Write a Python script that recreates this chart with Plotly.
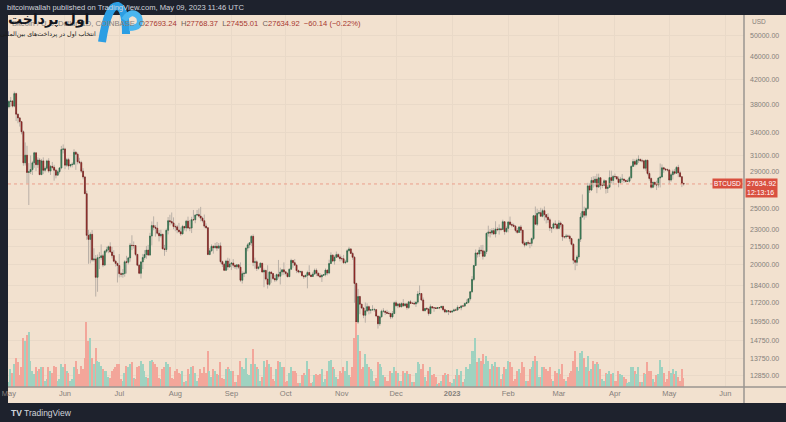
import math
import pandas as pd
import plotly.graph_objects as go

# ---------------- data (BTC/USD daily, COINBASE) ----------------
first_open = 37640
closes = [
    # May 2022
    38470, 38529, 37750, 39690, 36550, 36010, 35470, 34060, 30080, 31010,
    28940, 29030, 29280, 30080, 31310, 29860, 30420, 28690, 30310, 29190,
    29430, 30310, 29100, 29650, 29540, 29200, 28630, 29030, 29470, 31730, 31800,
    # Jun
    29800, 30460, 29700, 29860, 29910, 31370, 31130, 30200, 30110, 29090,
    28420, 26580, 22490, 22130, 22580, 20390, 20460, 19010, 20560, 20570,
    20720, 19970, 21100, 21230, 21490, 21040, 20740, 20280, 20100, 19930,
    # Jul
    19290, 19240, 19300, 20230, 20190, 20550, 21620, 21590, 21590, 20840,
    19960, 19320, 20220, 20580, 20830, 21200, 20780, 22430, 23390, 23230,
    23150, 22680, 22450, 22580, 21310, 21250, 22950, 23850, 23770, 23640, 23300,
    # Aug
    23270, 22980, 22820, 22620, 23310, 23170, 23810, 23160, 23160, 23950,
    23940, 24400, 24440, 24300, 24100, 23850, 23340, 23190, 20830, 21140,
    21520, 21400, 21530, 21370, 21560, 20240, 20040, 19550, 20290, 19810, 20050,
    # Sep
    20130, 19950, 19830, 19990, 19800, 18790, 19290, 19320, 21370, 21650,
    21830, 22400, 20180, 20230, 19700, 19800, 20110, 19420, 19540, 18880,
    18480, 19410, 19300, 18920, 18810, 19220, 19090, 19420, 19590, 19430,
    # Oct
    19310, 19060, 19630, 20340, 20160, 19960, 19530, 19420, 19450, 19130,
    19060, 19160, 19380, 19180, 19070, 19260, 19550, 19330, 19130, 19050,
    19170, 19210, 19570, 19340, 20090, 20770, 20290, 20600, 20820, 20630, 20490,
    # Nov
    20480, 20160, 20210, 21150, 21300, 20920, 20600, 18550, 15890, 17600,
    17070, 16810, 16330, 16620, 16900, 16660, 16690, 16700, 16700, 16280,
    15780, 16230, 16600, 16600, 16520, 16460, 16440, 16220, 16440, 17170,
    # Dec
    16970, 17090, 16890, 17110, 16970, 17090, 16840, 17230, 17130, 17130,
    17090, 17210, 17780, 17810, 17360, 16630, 16780, 16740, 16440, 16900,
    16830, 16820, 16780, 16840, 16830, 16920, 16700, 16550, 16630, 16600, 16540,
    # Jan 2023
    16610, 16680, 16670, 16850, 16830, 16950, 16940, 17120, 17180, 17440,
    17940, 18850, 19930, 20960, 20870, 21190, 21140, 20680, 21080, 22680,
    22780, 22710, 22920, 22620, 23060, 23010, 23080, 23030, 23750, 22830, 23130,
    # Feb
    23730, 23490, 23430, 23330, 22940, 22760, 23260, 22960, 21800, 21630,
    21860, 21790, 21780, 22200, 24330, 23520, 24570, 24630, 24280, 24830,
    24440, 24190, 23940, 23180, 23160, 23550, 23490, 23130,
    # Mar
    23630, 23470, 22360, 22350, 22430, 22410, 22200, 21700, 20360, 20190,
    20630, 22150, 24200, 24750, 24380, 25050, 27420, 26970, 28030, 27800,
    28170, 27300, 28330, 27490, 27490, 27990, 27140, 27270, 28350, 28030, 28480,
    # Apr
    28450, 28200, 27790, 28170, 28180, 28040, 27920, 27950, 28340, 29650,
    30230, 29900, 30390, 30490, 30320, 30320, 29440, 30390, 28820, 28250,
    27270, 27820, 27590, 27520, 28300, 28420, 29480, 29340, 29250, 29230,
    # May 2023
    28070, 28680, 29030, 28850, 29530, 28900, 28450, 27693.24, 27634.92,
]
highs = [
    38670, 39160, 38650, 40020, 39850, 36650, 36130, 35510, 34250, 32640,
    32200, 30040, 30980, 30320, 31430, 31310, 30750, 30670, 30550, 30740,
    29650, 30460, 30640, 29820, 30180, 29840, 29370, 29240, 29550, 32190, 32380,
    31950, 30670, 30680, 29950, 30140, 31760, 31550, 31330, 30690, 30330,
    29440, 28540, 26900, 23000, 22770, 22970, 21360, 20790, 20830, 21030,
    21690, 20880, 21200, 21490, 21590, 21870, 21480, 21190, 20400, 20160,
    20870, 19400, 19650, 20360, 20720, 20640, 21800, 22500, 21950, 21600,
    20850, 20040, 20290, 20880, 21200, 21560, 21650, 22720, 23780, 24270,
    23440, 23740, 22980, 23000, 22650, 21650, 23110, 24200, 24430, 24650, 24170,
    23500, 23450, 23640, 23220, 23460, 23350, 23930, 24240, 23920, 24230,
    24900, 24460, 24900, 25050, 25210, 24240, 24450, 23600, 23220, 21380,
    21690, 21620, 21820, 21900, 21810, 21860, 20330, 20150, 20400, 20560, 20490,
    20200, 20450, 20000, 20020, 20050, 20180, 19470, 19450, 21420, 21800,
    21850, 22500, 22580, 20570, 20350, 19910, 20200, 20110, 19690, 19600,
    19950, 19500, 19480, 19310, 19190, 19300, 20380, 19760, 19640, 20180,
    19480, 19400, 19710, 20480, 20370, 20460, 20060, 19610, 19530, 19530,
    19150, 19220, 19520, 19950, 19220, 19430, 19690, 19700, 19350, 19330,
    19250, 19260, 19700, 19600, 20400, 21010, 20850, 20750, 21080, 20930, 20830,
    20680, 20800, 20390, 21290, 21480, 21360, 21060, 20700, 18600, 18150,
    17650, 17080, 16880, 17190, 17130, 16970, 16750, 17000, 16820, 16740,
    16290, 16300, 16700, 16800, 16600, 16690, 16590, 16500, 16610, 17250,
    17320, 17100, 17160, 17200, 17420, 17110, 17140, 17300, 17360, 17230,
    17260, 17240, 18000, 18400, 17850, 17530, 16800, 16870, 16810, 17050,
    16910, 16860, 16870, 16870, 16860, 16950, 16960, 16770, 16660, 16650, 16620,
    16630, 16770, 16780, 16990, 16880, 16990, 16970, 17180, 17400, 17490,
    17990, 19100, 19960, 21260, 21000, 21450, 21630, 21650, 21200, 22740,
    23380, 23070, 23150, 23170, 23800, 23250, 23500, 23180, 23950, 23820, 23310,
    23800, 24250, 23680, 23590, 23440, 23160, 23350, 23450, 22990, 21950,
    21900, 22060, 21900, 22310, 24380, 25250, 25020, 24880, 25120, 25030,
    25250, 24480, 24580, 24130, 23210, 23680, 23880, 23600,
    23900, 23780, 23480, 22420, 22620, 22560, 22540, 22270, 21800, 20370,
    20800, 22200, 24600, 26500, 25230, 25200, 27760, 27700, 28400, 28500,
    28530, 28790, 28800, 28400, 27790, 28170, 28040, 27500, 29170, 29150, 28650,
    28800, 28500, 28490, 28430, 28750, 28190, 28100, 28180, 28530, 29780,
    30560, 30500, 30600, 31000, 30600, 30570, 30320, 30470, 30410, 29100,
    28360, 27880, 27820, 28000, 28400, 30000, 29890, 29590, 29450, 29400,
    29330, 28880, 29260, 29350, 29680, 29840, 29130, 28490, 27768.37,
]
lows = [
    37400, 37650, 37560, 37580, 35560, 35240, 34780, 33710, 29730, 29750,
    27700, 25400, 28750, 28650, 29480, 29100, 29480, 28670, 28680, 28750,
    28950, 29250, 28900, 28650, 29310, 28000, 28260, 28560, 28810, 29310, 31230,
    29320, 29590, 29260, 29520, 29530, 29880, 29240, 29900, 29920, 28880,
    28150, 26560, 22090, 20070, 20100, 20250, 20250, 17600, 17940, 19650,
    20370, 19800, 19890, 20960, 20940, 20990, 20500, 20200, 19850, 18620,
    19000, 19020, 18980, 19060, 19300, 20020, 20240, 21200, 21330, 20690,
    19880, 19250, 18920, 19650, 20400, 20480, 20760, 20770, 21600, 22950,
    22380, 22560, 21950, 22290, 21260, 20720, 21040, 22580, 23400, 23500, 23050,
    22870, 22680, 22740, 22440, 22590, 22940, 22850, 23110, 22870, 22700,
    23880, 23610, 24310, 24170, 23790, 23680, 23150, 23090, 20770, 20770,
    21070, 20900, 21350, 21120, 21330, 20100, 19810, 19530, 19550, 19580, 19780,
    19570, 19760, 19650, 19620, 19650, 18650, 18540, 19030, 19280, 21100,
    21370, 21550, 19880, 19670, 19500, 19600, 19720, 19380, 18270, 18780,
    18170, 18360, 18600, 18810, 18650, 18700, 18920, 18470, 19170, 19180,
    19160, 19010, 19050, 19630, 19750, 19920, 19330, 19320, 19320, 19100,
    18880, 18990, 18190, 19110, 19020, 19060, 19220, 19100, 19070, 18990,
    18660, 19140, 19080, 19160, 19250, 20060, 20200, 20000, 20550, 20520, 20260,
    20330, 20060, 20050, 20190, 21080, 20880, 20390, 17160, 15600, 15780,
    16400, 16740, 16140, 15850, 16540, 16390, 16440, 16630, 16560, 16200,
    15480, 15650, 16180, 16500, 16340, 16420, 16400, 16080, 16120, 16440,
    16880, 16800, 16860, 16880, 16880, 16910, 16700, 16740, 17080, 17100,
    17070, 16880, 17090, 17650, 17280, 16600, 16590, 16690, 16300, 16400,
    16750, 16560, 16760, 16770, 16730, 16800, 16600, 16470, 16490, 16340, 16480,
    16490, 16550, 16610, 16660, 16760, 16660, 16910, 16910, 17100, 17140,
    17320, 17880, 18720, 19900, 20580, 20630, 20870, 20410, 20670, 20870,
    22380, 22300, 22520, 22520, 22300, 22860, 22560, 22880, 23010, 22550, 22720,
    22760, 23370, 23220, 23240, 22760, 22640, 22750, 22700, 21700, 21440,
    21620, 21620, 21360, 21530, 22060, 23450, 23350, 24440, 24250, 24170,
    23870, 23590, 23640, 22880, 22720, 23070, 23110, 23030,
    23050, 23230, 22000, 22200, 22200, 22330, 21930, 21600, 20050, 19560,
    19900, 20450, 21900, 24150, 23950, 24150, 24900, 26650, 26860, 27230,
    27370, 26630, 27200, 27020, 27170, 27400, 26590, 26650, 27260, 27700, 27540,
    28250, 28100, 27270, 27650, 27820, 27750, 27800, 27870, 27800, 28170,
    29630, 29650, 29790, 30060, 30240, 30120, 29290, 29140, 28610, 28010,
    27130, 27170, 27350, 26970, 27230, 27250, 28380, 28900, 29110, 29050,
    27670, 27890, 28130, 28670, 28810, 28400, 28380, 27290, 27455.01,
]
volumes = [  # thousand BTC
    8, 28, 22, 35, 45, 38, 18, 30, 75, 70, 80, 85, 40, 25, 20, 30, 25, 28, 30, 30,
    10, 12, 30, 25, 22, 32, 30, 10, 12, 35, 30,
    35, 25, 22, 10, 12, 30, 40, 28, 20, 32, 28, 45, 100, 70, 75, 45, 35, 60, 40, 38,
    32, 28, 25, 25, 15, 14, 25, 28, 30, 35,
    35, 12, 10, 22, 32, 30, 35, 38, 14, 12, 30, 32, 40, 35, 25, 15, 14, 40, 42, 38,
    35, 30, 14, 12, 28, 30, 38, 36, 30, 14, 12,
    25, 28, 22, 20, 25, 8, 10, 28, 20, 30, 32, 22, 10, 14, 28, 22, 30, 22, 55, 25,
    15, 28, 25, 20, 18, 38, 14, 12, 28, 30, 28,
    25, 25, 8, 8, 18, 40, 30, 28, 45, 20, 18, 35, 58, 35, 30, 28, 10, 15, 40, 30,
    42, 35, 30, 12, 10, 28, 40, 38, 30, 30,
    8, 10, 22, 30, 25, 25, 22, 6, 6, 18, 22, 18, 40, 28, 6, 8, 18, 20, 18, 20,
    28, 8, 12, 25, 40, 42, 30, 28, 15, 12, 25,
    22, 30, 25, 40, 18, 15, 30, 75, 100, 80, 55, 28, 30, 50, 35, 30, 28, 25, 10, 14,
    38, 35, 30, 18, 15, 10, 10, 25, 22, 30,
    25, 22, 10, 10, 25, 22, 25, 20, 20, 8, 8, 22, 38, 35, 28, 35, 15, 10, 25, 30,
    18, 20, 15, 5, 6, 10, 18, 22, 18, 20, 8,
    6, 12, 18, 28, 18, 25, 8, 12, 30, 28, 35, 55, 55, 75, 38, 45, 40, 50, 35, 48,
    40, 28, 35, 32, 38, 30, 30, 12, 20, 30, 28,
    40, 38, 30, 10, 12, 25, 28, 22, 38, 30, 10, 10, 28, 30, 40, 48, 40, 15, 15, 30,
    30, 28, 25, 30, 12, 10, 25, 22,
    28, 20, 35, 12, 10, 15, 22, 25, 40, 55, 30, 25, 52, 55, 45, 30, 48, 25, 28, 40,
    35, 38, 35, 28, 12, 10, 22, 20, 25, 20, 22,
    10, 10, 25, 20, 18, 15, 12, 6, 8, 30, 30, 25, 20, 30, 8, 8, 22, 20, 38, 25,
    25, 12, 8, 18, 20, 42, 30, 22, 8, 12,
    25, 22, 28, 20, 25, 15, 10, 28, 14,
]
price_ticks = [12850, 13750, 14750, 15950, 17200, 18400, 20000, 21500, 23000,
               25000, 29000, 31000, 34000, 38000, 42000, 46000, 50000]
month_ticks = ["2022-05-01", "2022-06-01", "2022-07-01", "2022-08-01", "2022-09-01",
               "2022-10-01", "2022-11-01", "2022-12-01", "2023-01-01", "2023-02-01",
               "2023-03-01", "2023-04-01", "2023-05-01", "2023-06-01"]
month_labels = ["May", "Jun", "Jul", "Aug", "Sep", "Oct", "Nov", "Dec", "<b>2023</b>",
                "Feb", "Mar", "Apr", "May", "Jun"]

# ---------------- derived ----------------
n = min(len(closes), len(highs), len(lows), len(volumes))
closes, highs, lows, volumes = closes[:n], highs[:n], lows[:n], volumes[:n]
dates = pd.date_range("2022-05-01", periods=n, freq="D")
opens = [first_open] + closes[:-1]
body_hi = [max(o, c) for o, c in zip(opens, closes)]
body_lo = [min(o, c) for o, c in zip(opens, closes)]
vol_colors = ["#9fd2c0" if c >= o else "#f3a69a" for o, c in zip(opens, closes)]
last = closes[-1]

W, H = 786, 422
L, R, T, B = 8, 42, 15, 35
PW, PH = W - L - R, H - T - B


def px(x):
    return (x - L) / PW


def py(y):
    return (H - B - y) / PH


x_start, x_end = "2022-04-30 12:00", "2023-06-11 08:00"
BEIGE = "#f2e1cf"
GRID = "#e9d9c8"
AXC = "#9a9591"
TXT = "#85807b"

fig = go.Figure()
fig.add_trace(go.Bar(x=dates, y=volumes, yaxis="y2", marker_color=vol_colors,
                     marker_line_width=0, width=86400000 * 0.8, showlegend=False))
fig.add_trace(go.Scatter(x=[x_start, x_end], y=[last, last], mode="lines",
                         line=dict(color="#eb9f8c", width=1, dash="dot"),
                         showlegend=False, hoverinfo="skip"))
wick = "#b9b0a7"
fig.add_trace(go.Candlestick(
    x=dates, open=opens, high=highs, low=lows, close=closes, whiskerwidth=0,
    increasing=dict(line=dict(color=wick, width=1), fillcolor=wick),
    decreasing=dict(line=dict(color=wick, width=1), fillcolor=wick),
    showlegend=False))
fig.add_trace(go.Candlestick(
    x=dates, open=opens, high=body_hi, low=body_lo, close=closes, whiskerwidth=0,
    increasing=dict(line=dict(color="#275f3f", width=0.6), fillcolor="#3f9161"),
    decreasing=dict(line=dict(color="#6e1a17", width=0.6), fillcolor="#b3302b"),
    showlegend=False))

shapes = [
    dict(type="rect", xref="paper", yref="paper", x0=0, x1=px(W), y0=py(403), y1=1,
         fillcolor=BEIGE, line_width=0, layer="below"),
    dict(type="line", xref="paper", yref="paper", x0=1, x1=1, y0=py(403), y1=1,
         line=dict(color=AXC, width=1.5)),
    dict(type="line", xref="paper", yref="paper", x0=0, x1=px(W), y0=0, y1=0,
         line=dict(color=AXC, width=1.5)),
]


def P(x, y):
    return f"{px(x):.5f},{py(y):.5f}"


# watermark logo (blue mark)
logo_path = ("M " + P(102, 42) + " Q " + P(108, 4) + " " + P(118, 6)
             + " Q " + P(126, 10) + " " + P(126, 34))
shapes.append(dict(type="path", xref="paper", yref="paper", path=logo_path,
                   line=dict(color="#2c9ee3", width=8)))
loop_path = ("M " + P(124, 20) + " Q " + P(132, 8) + " " + P(139, 17)
             + " Q " + P(143, 28) + " " + P(129, 28))
shapes.append(dict(type="path", xref="paper", yref="paper", path=loop_path,
                   line=dict(color="#4ab6ef", width=6)))

FONT = "Liberation Sans, Arial, sans-serif"
legend_txt = (
    f'<span style="color:{TXT}">Bitcoin / U.S. Dollar, 1D, COINBASE</span>  '
    '<span style="color:#6f6259">O</span><span style="color:#a8372f">27693.24</span>  '
    '<span style="color:#6f6259">H</span><span style="color:#a8372f">27768.37</span>  '
    '<span style="color:#6f6259">L</span><span style="color:#a8372f">27455.01</span>  '
    '<span style="color:#6f6259">C</span><span style="color:#a8372f">27634.92</span>  '
    '<span style="color:#a8372f">−60.14 (−0.22%)</span>'
)
annotations = [
    dict(xref="paper", yref="paper", x=px(5), y=py(7), xanchor="left", yanchor="middle",
         text="bitcoinwallah published on TradingView.com, May 09, 2023 11:46 UTC",
         showarrow=False, font=dict(family=FONT, size=7.6, color="#d1d4dc")),
    dict(xref="paper", yref="paper", x=px(10), y=py(24), xanchor="left", yanchor="middle",
         text=legend_txt, showarrow=False, font=dict(family=FONT, size=7.6, color=TXT)),
    dict(xref="paper", yref="paper", x=px(750), y=py(22), xanchor="left", yanchor="middle",
         text="USD", showarrow=False, font=dict(family=FONT, size=6.5, color=TXT)),
    dict(xref="paper", yref="y", x=1, y=math.log10(last), xanchor="right", yanchor="middle",
         xshift=-1, text="BTCUSD", showarrow=False, bgcolor="#d9503f", borderpad=1,
         font=dict(family=FONT, size=6.5, color="#ffffff")),
    dict(xref="paper", yref="y", x=1, y=math.log10(last), xanchor="left", yanchor="top",
         xshift=1, yshift=6, text="27634.92<br>12:13:16", showarrow=False,
         bgcolor="#d9503f", borderpad=1, align="left",
         font=dict(family=FONT, size=7, color="#ffffff")),
    dict(xref="paper", yref="paper", x=px(9), y=py(413), xanchor="left", yanchor="middle",
         text="<b>TV</b> TradingView", showarrow=False,
         font=dict(family=FONT, size=8.5, color="#d1d4dc")),
    dict(xref="paper", yref="paper", x=px(48), y=py(20), xanchor="center", yanchor="middle",
         text="<b>اول پرداخت</b>", showarrow=False,
         font=dict(family="DejaVu Sans", size=14, color="#12151d")),
    dict(xref="paper", yref="paper", x=px(48), y=py(34), xanchor="center", yanchor="middle",
         text="انتخاب اول در پرداخت‌های بین‌المللی", showarrow=False,
         font=dict(family="DejaVu Sans", size=6.3, color="#1a1a1a")),
]

fig.update_layout(
    width=W, height=H, margin=dict(l=L, r=R, t=T, b=B, autoexpand=False),
    paper_bgcolor="#1e222d", plot_bgcolor=BEIGE,
    shapes=shapes, annotations=annotations, bargap=0, showlegend=False,
    font=dict(family=FONT),
    xaxis=dict(type="date", range=[x_start, x_end], tickvals=month_ticks,
               ticktext=month_labels, tickfont=dict(size=7.5, color=TXT),
               showgrid=True, gridcolor=GRID, gridwidth=1, showline=False,
               zeroline=False, ticks="", rangeslider=dict(visible=False),
               automargin=False, fixedrange=True),
    yaxis=dict(type="log", range=[4.0881, 4.7355], side="right", tickvals=price_ticks,
               ticktext=[f"{v:.2f}" for v in price_ticks],
               tickfont=dict(size=7, color=TXT), showgrid=True, gridcolor=GRID,
               gridwidth=1, showline=False, zeroline=False, ticks="",
               ticklabelstandoff=5, automargin=False),
    yaxis2=dict(overlaying="y", range=[0, 572], visible=False),
)

fig.write_html("out.html")
